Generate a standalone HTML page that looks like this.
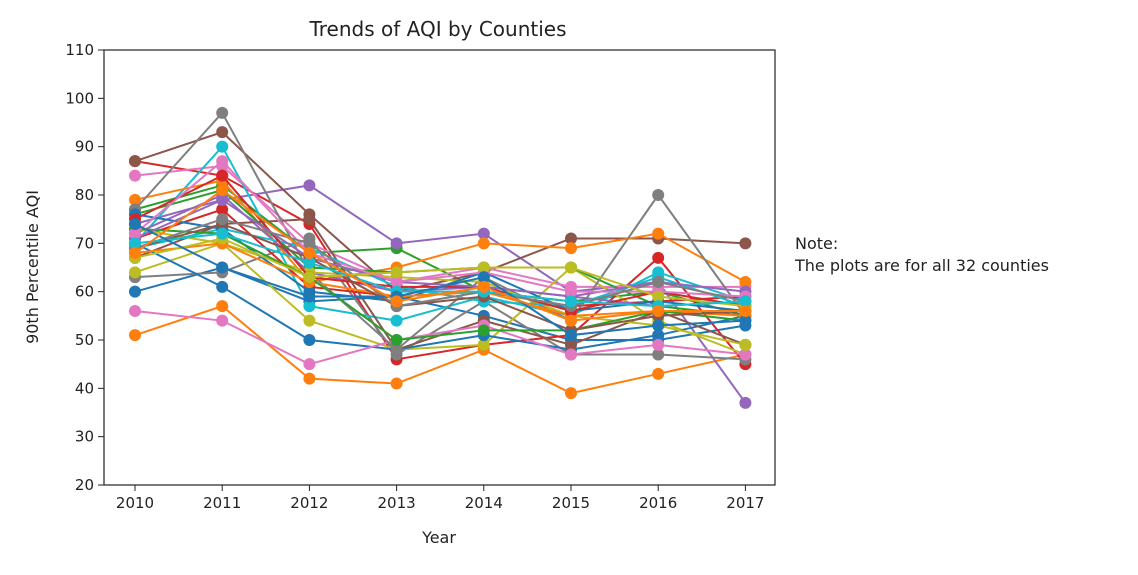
<!DOCTYPE html>
<html><head><meta charset="utf-8"><style>
body{margin:0;background:#fff;font-family:"Liberation Sans","DejaVu Sans",sans-serif;}
svg text{font-family:"DejaVu Sans","Liberation Sans",sans-serif;fill:#222;}
</style></head><body>
<svg id="chart" width="1138" height="570" viewBox="0 0 1138 570" xmlns="http://www.w3.org/2000/svg">
<text x="438" y="36" font-size="20" text-anchor="middle">Trends of AQI by Counties</text>
<text transform="translate(38,267) rotate(-90)" font-size="16" text-anchor="middle">90th Percentile AQI</text>
<text x="439" y="543" font-size="16" text-anchor="middle">Year</text>
<text x="795" y="249" font-size="16">Note:</text>
<text x="795" y="271" font-size="16">The plots are for all 32 counties</text>
<g id="marks"></g>
<g id="axes"></g>
</svg>
<script>
const years=[2010,2011,2012,2013,2014,2015,2016,2017];
const yTicks=[20,30,40,50,60,70,80,90,100,110];
const colors=["#1f77b4","#ff7f0e","#2ca02c","#d62728","#9467bd","#8c564b","#e377c2","#7f7f7f","#bcbd22","#17becf"];
const s1=[60,65,58,59,55,50,50,53];
const s2=[51,57,42,41,48,39,43,47];
const s3=[77,82,68,69,60,58,60,55];
const s4=[87,84,74,46,49,51,67,45];
const s5=[74,79,82,70,72,60,62,37];
const s6=[87,93,76,60,64,71,71,70];
const s7=[84,86,70,62,65,61,61,61];
const s8=[63,64,71,47,58,47,47,46];
const s9=[64,70,54,48,49,65,54,47];
const s10=[70,90,57,54,59,55,64,58];
const s11=[70,61,50,48,51,48,51,55];
const s12=[79,83,62,65,70,69,72,62];
const s13=[76,81,65,64,65,65,57,55];
const s14=[71,77,61,59,60,57,58,59];
const s15=[72,80,64,60,61,59,57,58];
const s16=[67,74,75,48,54,49,56,49];
const s17=[56,54,45,50,53,47,49,47];
const s18=[77,97,64,48,63,54,80,55];
const s19=[73,70,64,63,62,55,53,49];
const s20=[69,73,69,61,58,57,63,57];
const s21=[76,73,60,58,64,56,58,56];
const s22=[68,70,62,59,60,55,56,55];
const s23=[73,72,63,50,52,52,56,54];
const s24=[75,84,63,61,61,56,60,57];
const s25=[71,79,67,62,61,59,62,60];
const s26=[69,74,67,57,59,52,55,56];
const s27=[72,87,68,62,64,60,60,59];
const s28=[69,75,70,57,60,57,62,58];
const s29=[67,71,63,64,65,65,59,57];
const s30=[70,72,66,60,60,58,57,58];
const s31=[74,65,59,59,63,51,53,54];
const s32=[68,81,68,58,61,54,56,56];
const series=[s1,s2,s3,s4,s5,s6,s7,s8,s9,s10,s11,s12,s13,s14,s15,s16,s17,s18,s19,s20,s21,s22,s23,s24,s25,s26,s27,s28,s29,s30,s31,s32];
const NS="http://www.w3.org/2000/svg";
const L=104,R=775,T=50,B=485;
const x=y=>135+(y-2010)*87.2;
const yv=v=>B-(v-20)/90*(B-T);
const marks=document.getElementById('marks');
series.forEach((s,i)=>{
  const c=colors[i%10];
  const g=document.createElementNS(NS,'g');
  
  
  const p=document.createElementNS(NS,'polyline');
  p.setAttribute('points',s.map((v,j)=>x(years[j])+','+yv(v)).join(' '));
  p.setAttribute('fill','none');p.setAttribute('stroke',c);p.setAttribute('stroke-width','2');
  
  
  g.appendChild(p);
  s.forEach((v,j)=>{
    const m=document.createElementNS(NS,'circle');
    m.setAttribute('cx',x(years[j]));m.setAttribute('cy',yv(v));m.setAttribute('r','6');m.setAttribute('fill',c);
    
    
    g.appendChild(m);
  });
  marks.appendChild(g);
});
const ax=document.getElementById('axes');
const fr=document.createElementNS(NS,'rect');
fr.setAttribute('x',L);fr.setAttribute('y',T);fr.setAttribute('width',R-L);fr.setAttribute('height',B-T);
fr.setAttribute('fill','none');fr.setAttribute('stroke','#222');fr.setAttribute('stroke-width','1.2');


ax.appendChild(fr);
yTicks.forEach(t=>{
  const ln=document.createElementNS(NS,'line');
  ln.setAttribute('x1',L-6);ln.setAttribute('x2',L);ln.setAttribute('y1',yv(t));ln.setAttribute('y2',yv(t));ln.setAttribute('stroke','#222');
  
  
  ax.appendChild(ln);
  const tx=document.createElementNS(NS,'text');
  tx.setAttribute('x',L-10);tx.setAttribute('y',yv(t)+5);tx.setAttribute('text-anchor','end');tx.setAttribute('font-size','15');
  tx.textContent=t;
  
  
  ax.appendChild(tx);
});
years.forEach(yr=>{
  const ln=document.createElementNS(NS,'line');
  ln.setAttribute('x1',x(yr));ln.setAttribute('x2',x(yr));ln.setAttribute('y1',B);ln.setAttribute('y2',B+6);ln.setAttribute('stroke','#222');
  
  
  ax.appendChild(ln);
  const tx=document.createElementNS(NS,'text');
  tx.setAttribute('x',x(yr));tx.setAttribute('y',B+23);tx.setAttribute('text-anchor','middle');tx.setAttribute('font-size','15');
  tx.textContent=yr;
  
  
  ax.appendChild(tx);
});
</script>
</body></html>
